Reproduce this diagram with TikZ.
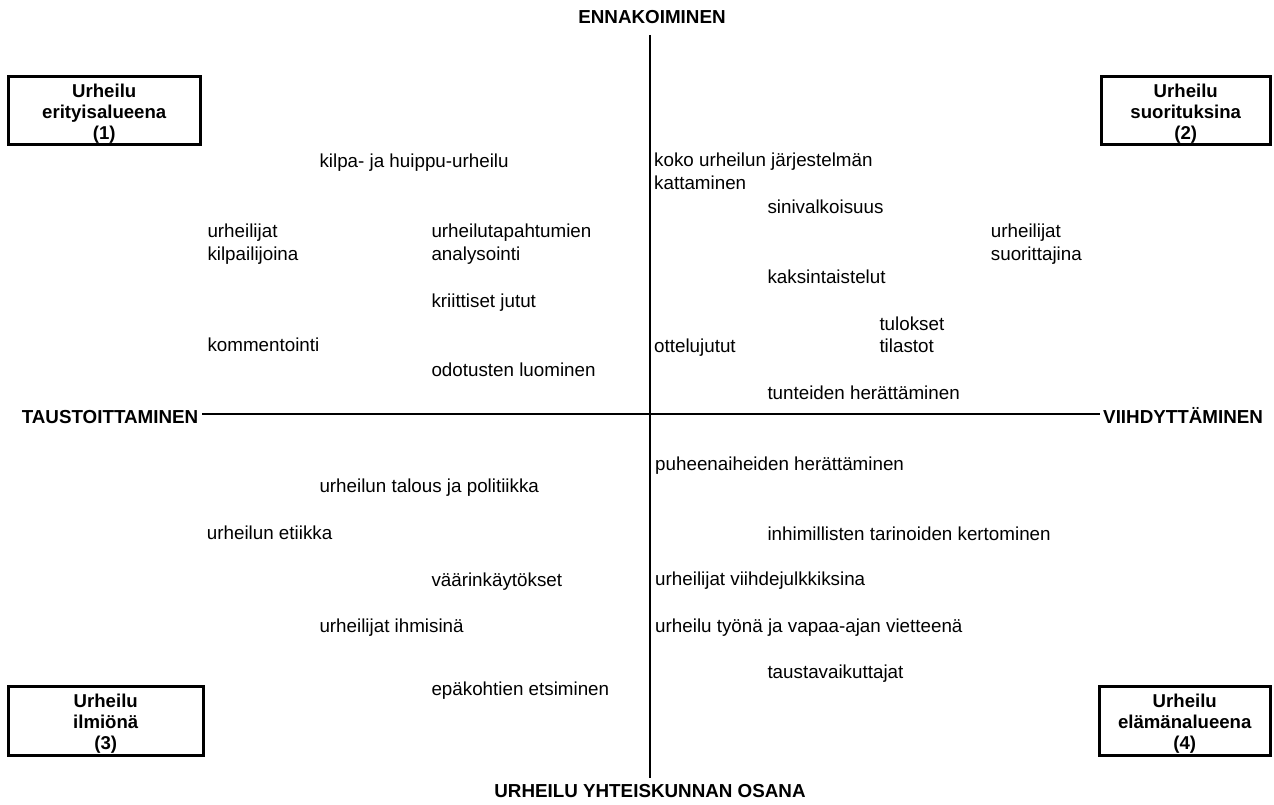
\documentclass[tikz,border=0pt]{standalone}
\usepackage{fontspec}
\setmainfont{Liberation Sans}
\usetikzlibrary{shadows}
\newcommand{\txtsz}{\fontsize{18.8pt}{22.6pt}\selectfont}
\newcommand{\boxsz}{\fontsize{18.6pt}{21pt}\selectfont\bfseries}
\begin{document}
\begin{tikzpicture}[x=1pt,y=-1pt,
  lbl/.style={anchor=base west, inner sep=0pt, align=left, font=\txtsz},
  axlbl/.style={inner sep=0pt, font=\txtsz\bfseries},
  axis/.style={line width=2.2pt},
  quad/.style={draw, line width=3pt, fill=white, align=center, font=\boxsz,
    inner sep=0pt, minimum height=68.5pt, text height=57pt, text depth=0pt,
    drop shadow={shadow xshift=1.5pt, shadow yshift=-1.5pt, opacity=1, fill=black}}
]
\useasboundingbox (0,0) rectangle (1274,805);

% axis labels
\node[axlbl, anchor=base] (enna) at (652,24) {ENNAKOIMINEN};
\node[axlbl, anchor=base] (osana) at (650,797) {URHEILU YHTEISKUNNAN OSANA};
\node[axlbl, anchor=base east] (taus) at (198.5,423.3) {TAUSTOITTAMINEN};
\node[axlbl, anchor=base west] (viih) at (1103,423.3) {VIIHDYTTÄMINEN};

% axes
\coordinate (vtop) at (650,35);
\coordinate (vbot) at (650,778);
\coordinate (hleft) at (202,414);
\coordinate (hright) at (1100,414);
\draw[axis] (vtop) -- (vbot);
\draw[axis] (hleft) -- (hright);

% quadrant boxes
\node[quad, minimum width=191.5pt] (q1) at (104.25,110.75) {Urheilu\\erityisalueena\\(1)};
\node[quad, minimum width=168.5pt] (q2) at (1185.75,110.75) {Urheilu\\suorituksina\\(2)};
\node[quad, minimum width=194.5pt] (q3) at (105.75,720.75) {Urheilu\\ilmiönä\\(3)};
\node[quad, minimum width=170.5pt] (q4) at (1184.75,720.75) {Urheilu\\elämänalueena\\(4)};

% upper left (anchor = baseline of last line)
\node[lbl] (t1) at (319.3,167.7) {kilpa- ja huippu-urheilu};
\node[lbl] (t2) at (207.3,260.3) {urheilijat\\kilpailijoina};
\node[lbl] (t3) at (431.3,260.3) {urheilutapahtumien\\analysointi};
\node[lbl] (t4) at (431.3,307) {kriittiset jutut};
\node[lbl] (t5) at (207.3,351.7) {kommentointi};
\node[lbl] (t6) at (431.3,376) {odotusten luominen};

% upper right
\node[lbl] (t7) at (654,189.3) {koko urheilun järjestelmän\\kattaminen};
\node[lbl] (t8) at (767.3,213.3) {sinivalkoisuus};
\node[lbl] (t9) at (990.7,260) {urheilijat\\suorittajina};
\node[lbl] (t10) at (767.3,283.3) {kaksintaistelut};
\node[lbl] (t11) at (879.3,352.6) {tulokset\\tilastot};
\node[lbl] (t12) at (654,352.3) {ottelujutut};
\node[lbl] (t13) at (767.3,399) {tunteiden herättäminen};

% lower left
\node[lbl] (t14) at (319.3,492.7) {urheilun talous ja politiikka};
\node[lbl] (t15) at (206.7,539.3) {urheilun etiikka};
\node[lbl] (t16) at (431.3,586) {väärinkäytökset};
\node[lbl] (t17) at (319.3,632.7) {urheilijat ihmisinä};
\node[lbl] (t18) at (431.3,695) {epäkohtien etsiminen};

% lower right
\node[lbl] (t19) at (655,470) {puheenaiheiden herättäminen};
\node[lbl] (t20) at (767.3,540) {inhimillisten tarinoiden kertominen};
\node[lbl] (t21) at (655,585.7) {urheilijat viihdejulkkiksina};
\node[lbl] (t22) at (655,632.3) {urheilu työnä ja vapaa-ajan vietteenä};
\node[lbl] (t23) at (767.3,678.3) {taustavaikuttajat};
\end{tikzpicture}
\end{document}
